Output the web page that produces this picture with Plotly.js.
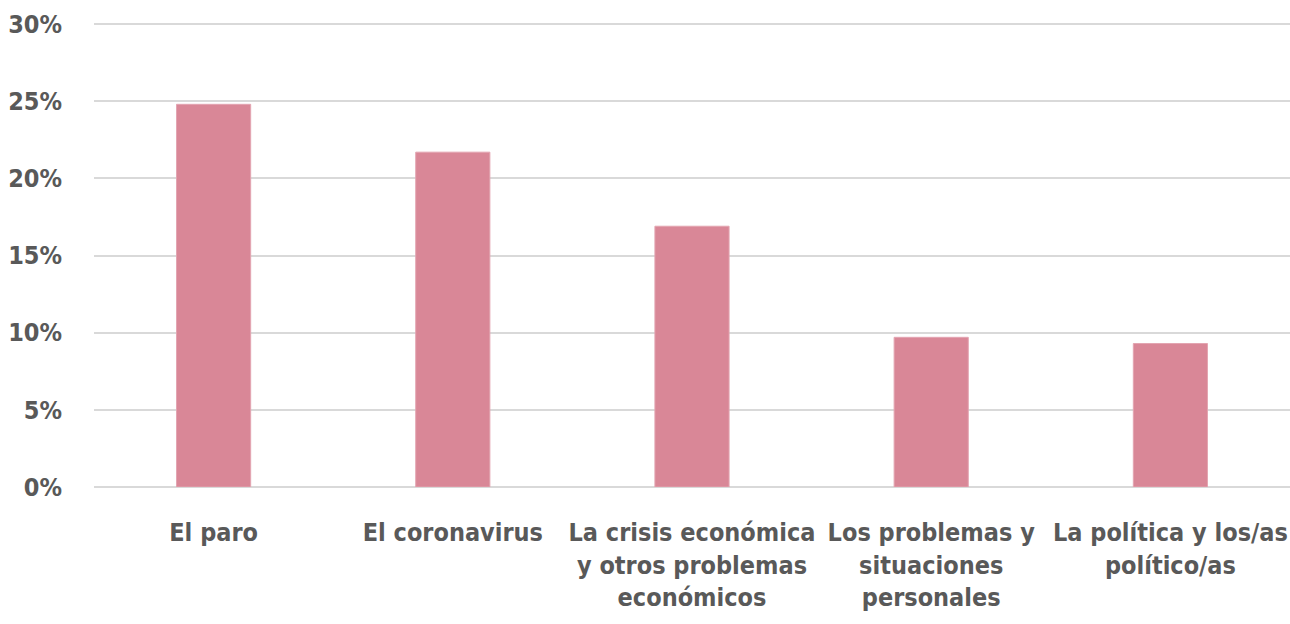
<!DOCTYPE html>
<html>
<head>
<meta charset="utf-8">
<script src="https://cdn.plot.ly/plotly-3.0.1.min.js"></script>
<style>html,body{margin:0;padding:0;background:#fff;}#chart{width:1290px;height:624px;}</style>
</head>
<body>
<div id="chart"></div>
<script>
const categories = [
  "El paro",
  "El coronavirus",
  "La crisis económica<br>y otros problemas<br>económicos",
  "Los problemas y<br>situaciones<br>personales",
  "La política y los/as<br>político/as"
];
const values = [24.8, 21.7, 16.9, 9.7, 9.3];
const yTicks = [0, 5, 10, 15, 20, 25, 30];

const font = {family: "'DejaVu Sans Condensed', 'Liberation Sans Narrow', sans-serif", size: 25, color: '#595959', weight: 'bold'};

Plotly.newPlot('chart', [{
  type: 'bar',
  x: categories,
  y: values,
  width: 0.31,
  marker: {color: '#d98797', line: {color: '#e3a5b1', width: 1}},
  hoverinfo: 'none'
}], {
  width: 1290, height: 624,
  margin: {l: 94, r: 0, t: 21, b: 137},
  paper_bgcolor: '#fff', plot_bgcolor: '#fff',
  font: font,
  showlegend: false,
  xaxis: {
    type: 'category',
    tickfont: font,
    showgrid: false, zeroline: false,
    showline: false,
    ticks: 'outside', ticklen: 23, tickcolor: 'rgba(0,0,0,0)'
  },
  yaxis: {
    range: [0, 30.2],
    tickvals: yTicks,
    ticktext: yTicks.map(v => v + '%'),
    tickfont: font,
    showgrid: true, gridcolor: '#d9d9d9', gridwidth: 2,
    zeroline: true, zerolinecolor: '#d9d9d9', zerolinewidth: 2,
    showline: false,
    ticks: 'outside', ticklen: 26, tickcolor: 'rgba(0,0,0,0)'
  }
}, {displayModeBar: false, staticPlot: true});
</script>
</body>
</html>
